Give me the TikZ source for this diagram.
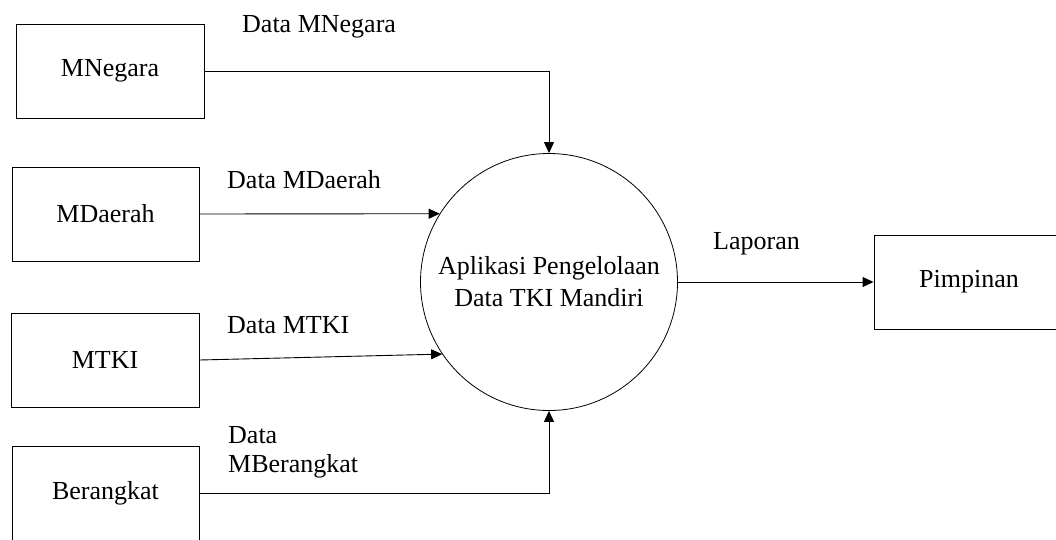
\documentclass[tikz,border=0pt]{standalone}
\usepackage{fontspec}
\setmainfont{LiberationSerif}[Extension=.ttf, UprightFont=*-Regular, BoldFont=*-Bold]
\usetikzlibrary{arrows.meta}
\begin{document}
\begin{tikzpicture}[x=1pt,y=-1pt,
  every node/.style={font=\rmfamily\fontsize{26}{32}\selectfont, text=black},
  entity/.style={draw=black, line width=0.9pt, rectangle, minimum width=187pt, minimum height=94pt, inner sep=0pt},
  process/.style={draw=black, line width=0.8pt, circle, minimum size=257pt, inner sep=0pt, align=center},
  flow/.style={draw=black, line width=0.9pt, -{Triangle[length=11pt,width=10pt]}},
  flowlabel/.style={anchor=base west, inner sep=0pt}
]
\useasboundingbox (0,0) rectangle (1056,539);

% external entities
\node[entity, minimum width=188pt] (mnegara) at (110,71) {MNegara};
\node[entity] (mdaerah) at (105.5,214) {MDaerah};
\node[entity, minimum width=188pt] (mtki) at (105,360) {MTKI};
\node[entity] (berangkat) at (105.5,493) {Berangkat};
\node[entity, minimum width=190pt] (pimpinan) at (969,282) {Pimpinan};

% central process
\node[process] (proc) at (549,282) {Aplikasi Pengelolaan\\Data TKI Mandiri};

% data flows
\draw[flow] (mnegara.east) -| (proc.north);
\draw[flow] (mdaerah.east) -- (proc.148);
\draw[flow] (mtki.east) -- (proc.214.6);
\draw[flow] (berangkat.east) -| (proc.south);
\draw[flow] (proc.east) -- (pimpinan.west);

% flow labels
\node[flowlabel] (lnegara) at (242,32) {Data MNegara};
\node[flowlabel] (ldaerah) at (227,188) {Data MDaerah};
\node[flowlabel] (ltki) at (227,333) {Data MTKI};
\node[flowlabel] (lberangkat1) at (228,443) {Data};
\node[flowlabel] (lberangkat2) at (228,472) {MBerangkat};
\node[flowlabel] (llaporan) at (713,249) {Laporan};
\end{tikzpicture}
\end{document}
